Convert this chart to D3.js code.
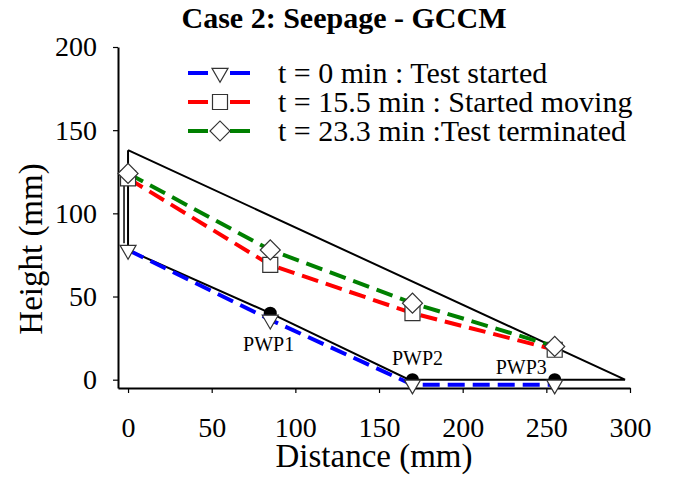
<!DOCTYPE html>
<html>
<head>
<meta charset="utf-8">
<script src="https://cdnjs.cloudflare.com/ajax/libs/d3/7.8.5/d3.min.js"></script>
<style>
  body { margin: 0; background: #fff; }
  svg { font-family: "Liberation Serif", "Times New Roman", serif; }
</style>
</head>
<body>
<svg id="graphic-svg" width="674" height="482"></svg>
<script>
////////////////////////////////////////////////////////////////////////////////////
// Data (mm)
var distance = [0, 85, 170, 255];
var h_t0 = [78, 36, -3, -3];        // t = 0 min
var h_t155 = [121, 69, 40, 18];     // t = 15.5 min
var h_t233 = [124, 78, 46, 20];     // t = 23.3 min
var seriesNames = ["t = 0 min : Test started", "t = 15.5 min : Started moving", "t = 23.3 min :Test terminated"];

// slope outline
var slopeX = [0, 297, 168, 85, 0, 0];
var slopeY = [138, 0, 0, 40, 78, 138];
// arrow shaft at upstream face
var arrowX = [-2.4, -2.4];
var arrowY = [122, 82];

// pore water pressure sensors
var pwpNames = ["PWP1", "PWP2", "PWP3"];
var pwpX = [85, 170, 255];
var pwpY = [40, 0, 0];
var pwpLabelX = [84, 173, 235];
var pwpLabelY = [17, 9, 3.6];

var xTicks = [0, 50, 100, 150, 200, 250, 300];
var yTicks = [0, 50, 100, 150, 200];

////////////////////////////////////////////////////////////////////////////////////
var svg = d3.select("#graphic-svg");

var xScale = d3.scaleLinear().domain([-6, 300]).range([118, 630]);
var yScale = d3.scaleLinear().domain([-5, 200]).range([388, 47]);

// Colors
var blue = "#0000ff";
var red = "#ff0000";
var green = "#008000";

// Axes
var xAxis = svg.append("g")
   .attr("transform", "translate(0," + yScale(-5) + ")")
   .call(d3.axisBottom(xScale).tickValues(xTicks).tickSize(5).tickSizeOuter(0).tickPadding(24));
var yAxis = svg.append("g")
   .attr("transform", "translate(" + xScale(-6) + ",0)")
   .call(d3.axisLeft(yScale).tickValues(yTicks).tickSize(5).tickSizeOuter(0).tickPadding(16));
[xAxis, yAxis].forEach(function(ax) {
  ax.select(".domain").attr("stroke", "#000").attr("stroke-width", 2);
  ax.selectAll(".tick line").attr("stroke", "#000").attr("stroke-width", 1.2);
  ax.selectAll(".tick text")
    .attr("fill", "#000")
    .style("font-family", "Liberation Serif, Times New Roman, serif")
    .style("font-size", "28px");
});

// Titles
svg.append("text")
   .text("Case 2: Seepage - GCCM")
   .attr("x", 344).attr("y", 28)
   .attr("text-anchor", "middle")
   .style("font-weight", "bold")
   .style("font-size", "30px");
svg.append("text")
   .text("Distance (mm)")
   .attr("x", 374).attr("y", 467)
   .attr("text-anchor", "middle")
   .style("font-size", "33px");
svg.append("text")
   .text("Height (mm)")
   .attr("transform", "translate(42,249) rotate(-90)")
   .attr("text-anchor", "middle")
   .style("font-size", "33px");

// Slope outline
var line = d3.line()
   .x(function(d) { return xScale(d[0]); })
   .y(function(d) { return yScale(d[1]); });
svg.append("path")
   .datum(slopeX.map(function(d, i) { return [d, slopeY[i]]; }))
   .attr("d", line)
   .attr("fill", "none")
   .attr("stroke", "#000")
   .attr("stroke-width", 2);
svg.append("path")
   .datum(arrowX.map(function(d, i) { return [d, arrowY[i]]; }))
   .attr("d", line)
   .attr("fill", "none")
   .attr("stroke", "#000")
   .attr("stroke-width", 1.5);

// PWP sensors
svg.selectAll(".pwp")
   .data(pwpX)
   .enter()
   .append("circle")
   .attr("class", "pwp")
   .attr("cx", function(d) { return xScale(d); })
   .attr("cy", function(d, i) { return yScale(pwpY[i]); })
   .attr("r", 6.5)
   .style("fill", "#000");
svg.selectAll(".pwpLabel")
   .data(pwpNames)
   .enter()
   .append("text")
   .attr("class", "pwpLabel")
   .text(function(d) { return d; })
   .attr("x", function(d, i) { return xScale(pwpLabelX[i]); })
   .attr("y", function(d, i) { return yScale(pwpLabelY[i]); })
   .attr("text-anchor", "middle")
   .style("font-size", "20px");

// Series
var symTri = d3.symbol().type(d3.symbolTriangle).size(111);
var symSq = d3.symbol().type(d3.symbolSquare).size(225);
var symDia = d3.symbol().type(d3.symbolSquare).size(200);
var series = [
  { name: seriesNames[0], values: h_t0, color: blue, sym: symTri, rot: 180 },
  { name: seriesNames[1], values: h_t155, color: red, sym: symSq, rot: 0 },
  { name: seriesNames[2], values: h_t233, color: green, sym: symDia, rot: 45 }
];

series.forEach(function(s) {
  svg.append("path")
     .datum(distance.map(function(d, i) { return [d, s.values[i]]; }))
     .attr("d", line)
     .attr("fill", "none")
     .attr("stroke", s.color)
     .attr("stroke-width", 4)
     .attr("stroke-dasharray", "17,8");
});
series.forEach(function(s) {
  svg.selectAll(null)
     .data(distance)
     .enter()
     .append("path")
     .attr("d", s.sym())
     .attr("transform", function(d, i) {
       return "translate(" + xScale(d) + "," + yScale(s.values[i]) + ") rotate(" + s.rot + ")";
     })
     .style("fill", "#fff")
     .style("stroke", "#333")
     .style("stroke-width", 1.2);
});

// Legend
var legend = svg.append("g").attr("transform", "translate(188,73)");
series.forEach(function(s, i) {
  var g = legend.append("g").attr("transform", "translate(0," + (i * 29) + ")");
  g.append("line")
   .attr("x1", 0).attr("x2", 62).attr("y1", 0).attr("y2", 0)
   .attr("stroke", s.color)
   .attr("stroke-width", 4)
   .attr("stroke-dasharray", "20,22,20");
  g.append("path")
   .attr("d", s.sym())
   .attr("transform", "translate(32,0) rotate(" + s.rot + ")")
   .style("fill", "#fff")
   .style("stroke", "#333")
   .style("stroke-width", 1.2);
  g.append("text")
   .text(s.name)
   .attr("x", 90).attr("y", 10)
   .style("font-size", "30px");
});
</script>
</body>
</html>
